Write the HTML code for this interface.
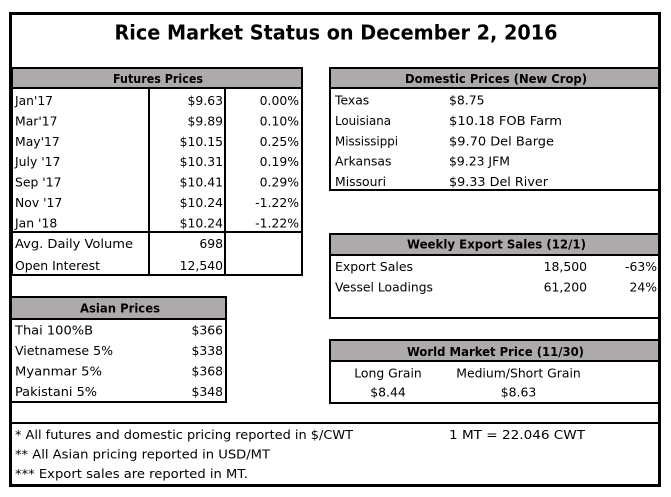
<!DOCTYPE html>
<html>
<head>
<meta charset="utf-8">
<style>
html,body{margin:0;padding:0;background:#fff;}
svg{display:block;}
text{font-family:"DejaVu Sans","Liberation Sans",sans-serif;fill:#000;}
.b{font-size:12.4px;}
.h{font-size:12.5px;font-weight:bold;}
</style>
</head>
<body>
<svg width="671" height="497" viewBox="0 0 671 497" xmlns="http://www.w3.org/2000/svg">
<rect x="0" y="0" width="671" height="497" fill="#fff"/>
<g shape-rendering="crispEdges" fill="#000">
  <rect x="9" y="12" width="652" height="3"/>
  <rect x="9" y="484" width="652" height="3"/>
  <rect x="9" y="12" width="3" height="475"/>
  <rect x="658" y="12" width="3" height="475"/>

  <rect x="12" y="69" width="289" height="18" fill="#AEAAAA"/>
  <rect x="12" y="67" width="291" height="2"/>
  <rect x="12" y="87" width="291" height="2"/>
  <rect x="301" y="67" width="2" height="209"/>
  <rect x="12" y="274" width="291" height="2"/>
  <rect x="12" y="67" width="1" height="209"/>
  <rect x="148" y="89" width="2" height="187"/>
  <rect x="224" y="89" width="2" height="187"/>
  <rect x="12" y="231" width="291" height="2"/>

  <rect x="12" y="298" width="213" height="20" fill="#AEAAAA"/>
  <rect x="12" y="296" width="215" height="2"/>
  <rect x="12" y="318" width="215" height="2"/>
  <rect x="225" y="296" width="2" height="107"/>
  <rect x="12" y="401" width="215" height="2"/>

  <rect x="9" y="422" width="652" height="2"/>

  <rect x="331" y="69" width="327" height="18" fill="#AEAAAA"/>
  <rect x="329" y="67" width="332" height="2"/>
  <rect x="329" y="87" width="332" height="2"/>
  <rect x="329" y="67" width="2" height="124"/>
  <rect x="329" y="189" width="332" height="2"/>

  <rect x="331" y="235" width="327" height="19" fill="#AEAAAA"/>
  <rect x="329" y="233" width="332" height="2"/>
  <rect x="329" y="254" width="332" height="2"/>
  <rect x="329" y="233" width="2" height="86"/>
  <rect x="329" y="317" width="332" height="2"/>

  <rect x="331" y="341" width="327" height="19" fill="#AEAAAA"/>
  <rect x="329" y="339" width="332" height="2"/>
  <rect x="329" y="360" width="332" height="2"/>
  <rect x="329" y="339" width="2" height="65"/>
  <rect x="329" y="402" width="332" height="2"/>
</g>

<text x="114.5" y="39.5" font-size="20" font-weight="bold" textLength="443" lengthAdjust="spacingAndGlyphs">Rice Market Status on December 2, 2016</text>

<text class="h" x="113" y="83" textLength="90" lengthAdjust="spacingAndGlyphs">Futures Prices</text>
<g class="b">
<text x="15" y="105" textLength="38" lengthAdjust="spacingAndGlyphs">Jan'17</text>
<text x="15" y="125.4">Mar'17</text>
<text x="15" y="145.8">May'17</text>
<text x="15" y="166.2">July '17</text>
<text x="15" y="186.6">Sep '17</text>
<text x="15" y="207">Nov '17</text>
<text x="15" y="227.4">Jan '18</text>
<g text-anchor="end">
<text x="223" y="105">$9.63</text>
<text x="223" y="125.4">$9.89</text>
<text x="223" y="145.8">$10.15</text>
<text x="223" y="166.2">$10.31</text>
<text x="223" y="186.6">$10.41</text>
<text x="223" y="207">$10.24</text>
<text x="223" y="227.4">$10.24</text>
<text x="299" y="105">0.00%</text>
<text x="299" y="125.4">0.10%</text>
<text x="299" y="145.8">0.25%</text>
<text x="299" y="166.2">0.19%</text>
<text x="299" y="186.6">0.29%</text>
<text x="299" y="207">-1.22%</text>
<text x="299" y="227.4">-1.22%</text>
<text x="223" y="248">698</text>
<text x="223" y="270">12,540</text>
</g>
<text x="15" y="248" textLength="118" lengthAdjust="spacingAndGlyphs">Avg. Daily Volume</text>
<text x="15" y="270" textLength="85" lengthAdjust="spacingAndGlyphs">Open Interest</text>
</g>

<text class="h" x="80" y="312.5" textLength="80" lengthAdjust="spacingAndGlyphs">Asian Prices</text>
<g class="b">
<text x="15" y="334.5" textLength="78" lengthAdjust="spacingAndGlyphs">Thai 100%B</text>
<text x="15" y="355" textLength="98" lengthAdjust="spacingAndGlyphs">Vietnamese 5%</text>
<text x="15" y="375.5" textLength="87" lengthAdjust="spacingAndGlyphs">Myanmar 5%</text>
<text x="15" y="396" textLength="82" lengthAdjust="spacingAndGlyphs">Pakistani 5%</text>
<g text-anchor="end">
<text x="223" y="334.5">$366</text>
<text x="223" y="355">$338</text>
<text x="223" y="375.5">$368</text>
<text x="223" y="396">$348</text>
</g>
</g>

<text class="h" x="405" y="83" textLength="182" lengthAdjust="spacingAndGlyphs">Domestic Prices (New Crop)</text>
<g class="b">
<text x="335" y="104.5">Texas</text>
<text x="335" y="125" textLength="56" lengthAdjust="spacingAndGlyphs">Louisiana</text>
<text x="335" y="145.3" textLength="63" lengthAdjust="spacingAndGlyphs">Mississippi</text>
<text x="335" y="165.7">Arkansas</text>
<text x="335" y="186">Missouri</text>
<text x="449" y="104.5">$8.75</text>
<text x="449" y="125" textLength="113" lengthAdjust="spacingAndGlyphs">$10.18 FOB Farm</text>
<text x="449" y="145.3" textLength="105" lengthAdjust="spacingAndGlyphs">$9.70 Del Barge</text>
<text x="449" y="165.7">$9.23 JFM</text>
<text x="449" y="186" textLength="99" lengthAdjust="spacingAndGlyphs">$9.33 Del River</text>
</g>

<text class="h" x="407" y="248.5" textLength="179" lengthAdjust="spacingAndGlyphs">Weekly Export Sales (12/1)</text>
<g class="b">
<text x="335" y="271" textLength="78" lengthAdjust="spacingAndGlyphs">Export Sales</text>
<text x="335" y="291.7" textLength="98" lengthAdjust="spacingAndGlyphs">Vessel Loadings</text>
<g text-anchor="end">
<text x="587" y="271">18,500</text>
<text x="587" y="291.7">61,200</text>
<text x="657" y="271">-63%</text>
<text x="657" y="291.7">24%</text>
</g>
</g>

<text class="h" x="407" y="356" textLength="177" lengthAdjust="spacingAndGlyphs">World Market Price (11/30)</text>
<g class="b" text-anchor="middle">
<text x="388" y="377.3">Long Grain</text>
<text x="518.5" y="377.3">Medium/Short Grain</text>
<text x="388" y="396.7">$8.44</text>
<text x="518.5" y="396.7">$8.63</text>
</g>

<g class="b">
<text x="15" y="439" textLength="338" lengthAdjust="spacingAndGlyphs">* All futures and domestic pricing reported in $/CWT</text>
<text x="15" y="458.5" textLength="255" lengthAdjust="spacingAndGlyphs">** All Asian pricing reported in USD/MT</text>
<text x="15" y="478" textLength="233" lengthAdjust="spacingAndGlyphs">*** Export sales are reported in MT.</text>
<text x="449" y="439" textLength="136" lengthAdjust="spacingAndGlyphs">1 MT = 22.046 CWT</text>
</g>
</svg>
</body>
</html>
